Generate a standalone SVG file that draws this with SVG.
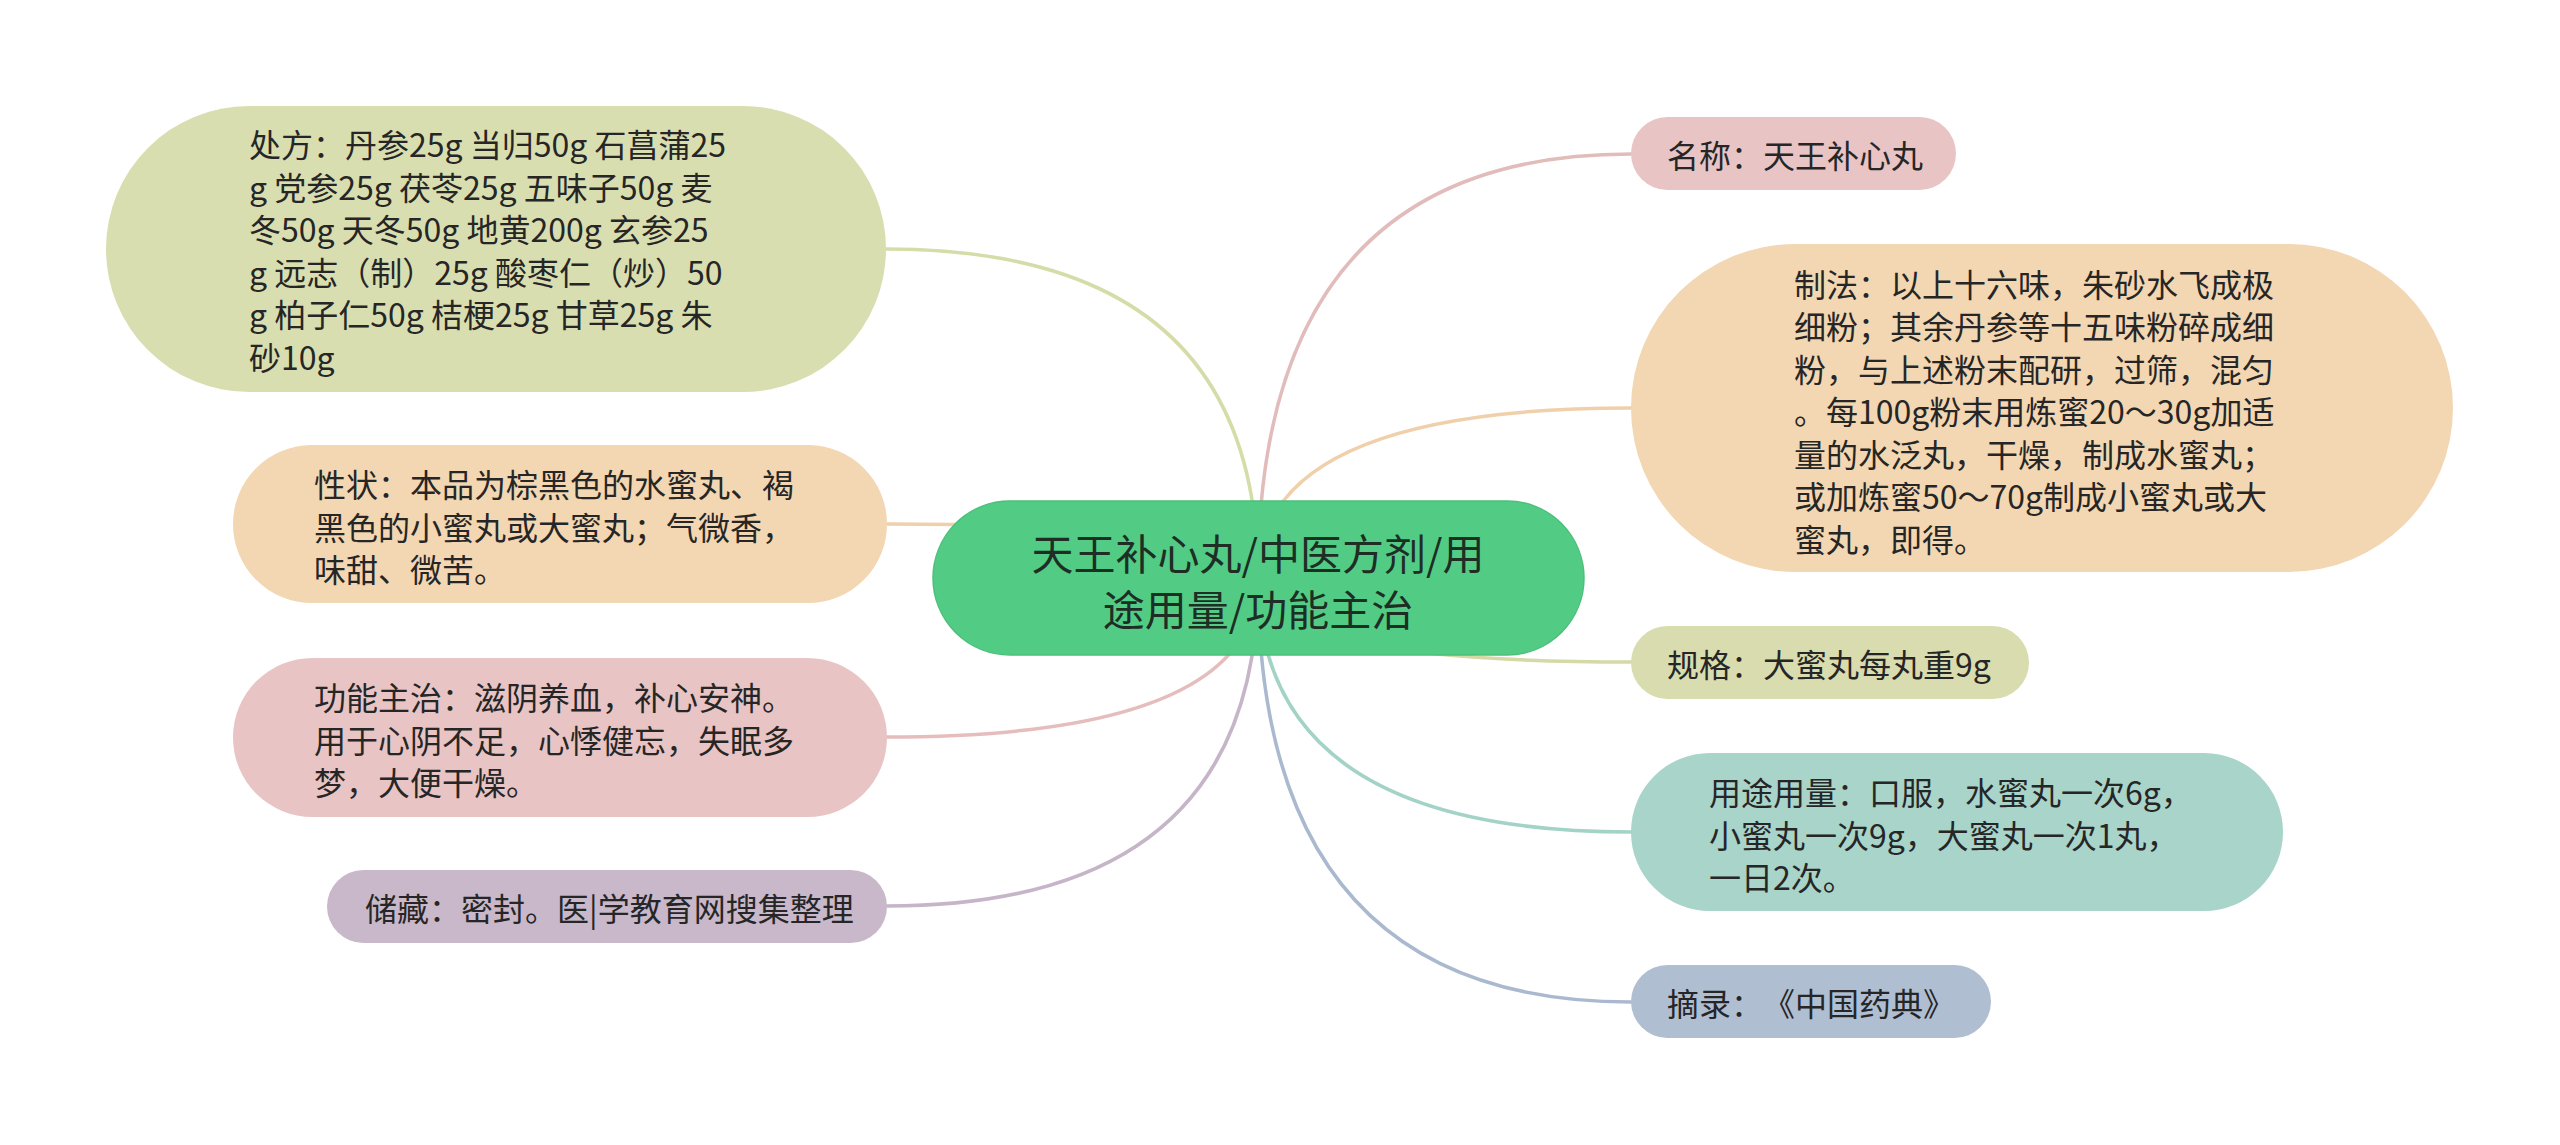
<svg xmlns="http://www.w3.org/2000/svg" width="2560" height="1145" viewBox="0 0 2560 1145">
<style>
text{text-spacing-trim:space-all}
.t{font-family:"Noto Sans CJK SC","Noto Sans",sans-serif;font-size:32px;fill:#262626;dominant-baseline:central}
.c{font-family:"Noto Sans CJK SC","Noto Sans",sans-serif;font-size:42px;fill:#1e2e24;dominant-baseline:central;text-anchor:middle}
.e{fill:none;stroke-width:3.5;stroke-linecap:round}
</style>
<rect width="2560" height="1145" fill="#ffffff"/>
<g id="connectors">
<path class="e" stroke="#D6DCA8" d="M1258,578 Q1258,249 886,249"/>
<path class="e" stroke="#F0D0AA" d="M1258,578 Q1258,524 887,524"/>
<path class="e" stroke="#E6BDBD" d="M1258,578 Q1258,737 887,737"/>
<path class="e" stroke="#C6B4C8" d="M1258,578 Q1258,906 887,906"/>
<path class="e" stroke="#E2BBBB" d="M1258,578 Q1258,154 1631,154"/>
<path class="e" stroke="#F0D0AA" d="M1258,578 Q1258,408 1631,408"/>
<path class="e" stroke="#D5D9A6" d="M1258,578 Q1258,662 1631,662"/>
<path class="e" stroke="#A3D2C6" d="M1258,578 Q1258,832 1631,832"/>
<path class="e" stroke="#AAB9CF" d="M1258,578 Q1258,1002 1631,1002"/>
</g>
<g id="center">
<rect x="933" y="501" width="651" height="154" rx="77" fill="#52CC84" stroke="#4CBF7B" stroke-width="1.5"/>
<text class="c" x="1258" y="551">天王补心丸/中医方剂/用</text>
<text class="c" x="1258" y="607">途用量/功能主治</text>
</g>
<g id="chufang">
<rect x="106" y="106" width="780" height="286" rx="143" fill="#D9DEB0"/>
<text class="t" x="249" y="143">处方：丹参25g 当归50g 石菖蒲25</text>
<text class="t" x="249" y="185.5">g 党参25g 茯苓25g 五味子50g 麦</text>
<text class="t" x="249" y="228">冬50g 天冬50g 地黄200g 玄参25</text>
<text class="t" x="249" y="270.5">g 远志（制）25g 酸枣仁（炒）50</text>
<text class="t" x="249" y="313">g 柏子仁50g 桔梗25g 甘草25g 朱</text>
<text class="t" x="249" y="355.5">砂10g</text>
</g>
<g id="xingzhuang">
<rect x="233" y="445" width="654" height="158" rx="79" fill="#F3D6B2"/>
<text class="t" x="314" y="483">性状：本品为棕黑色的水蜜丸、褐</text>
<text class="t" x="314" y="525.5">黑色的小蜜丸或大蜜丸；气微香，</text>
<text class="t" x="314" y="568">味甜、微苦。</text>
</g>
<g id="gongneng">
<rect x="233" y="658" width="654" height="159" rx="79.5" fill="#E8C4C4"/>
<text class="t" x="314" y="696">功能主治：滋阴养血，补心安神。</text>
<text class="t" x="314" y="738.5">用于心阴不足，心悸健忘，失眠多</text>
<text class="t" x="314" y="781">梦，大便干燥。</text>
</g>
<g id="chucang">
<rect x="327" y="870" width="560" height="73" rx="36.5" fill="#C8B8CA"/>
<text class="t" x="365" y="906.5">储藏：密封。医|学教育网搜集整理</text>
</g>
<g id="mingcheng">
<rect x="1631" y="117" width="325" height="73" rx="36.5" fill="#E8C4C4"/>
<text class="t" x="1667" y="154">名称：天王补心丸</text>
</g>
<g id="zhifa">
<rect x="1631" y="244" width="822" height="328" rx="164" fill="#F3D6B2"/>
<text class="t" x="1794" y="282.5">制法：以上十六味，朱砂水飞成极</text>
<text class="t" x="1794" y="325">细粉；其余丹参等十五味粉碎成细</text>
<text class="t" x="1794" y="367.5">粉，与上述粉末配研，过筛，混匀</text>
<text class="t" x="1794" y="410">。每100g粉末用炼蜜20～30g加适</text>
<text class="t" x="1794" y="452.5">量的水泛丸，干燥，制成水蜜丸；</text>
<text class="t" x="1794" y="495">或加炼蜜50～70g制成小蜜丸或大</text>
<text class="t" x="1794" y="537.5">蜜丸，即得。</text>
</g>
<g id="guige">
<rect x="1631" y="626" width="398" height="73" rx="36.5" fill="#D9DCAE"/>
<text class="t" x="1667" y="662.5">规格：大蜜丸每丸重9g</text>
</g>
<g id="yongtu">
<rect x="1631" y="753" width="652" height="158" rx="79" fill="#A8D4CA"/>
<text class="t" x="1709" y="791">用途用量：口服，水蜜丸一次6g，</text>
<text class="t" x="1709" y="833.5">小蜜丸一次9g，大蜜丸一次1丸，</text>
<text class="t" x="1709" y="876">一日2次。</text>
</g>
<g id="zhailu">
<rect x="1631" y="965" width="360" height="73" rx="36.5" fill="#B0BED2"/>
<text class="t" x="1667" y="1002">摘录：《中国药典》</text>
</g>
</svg>
